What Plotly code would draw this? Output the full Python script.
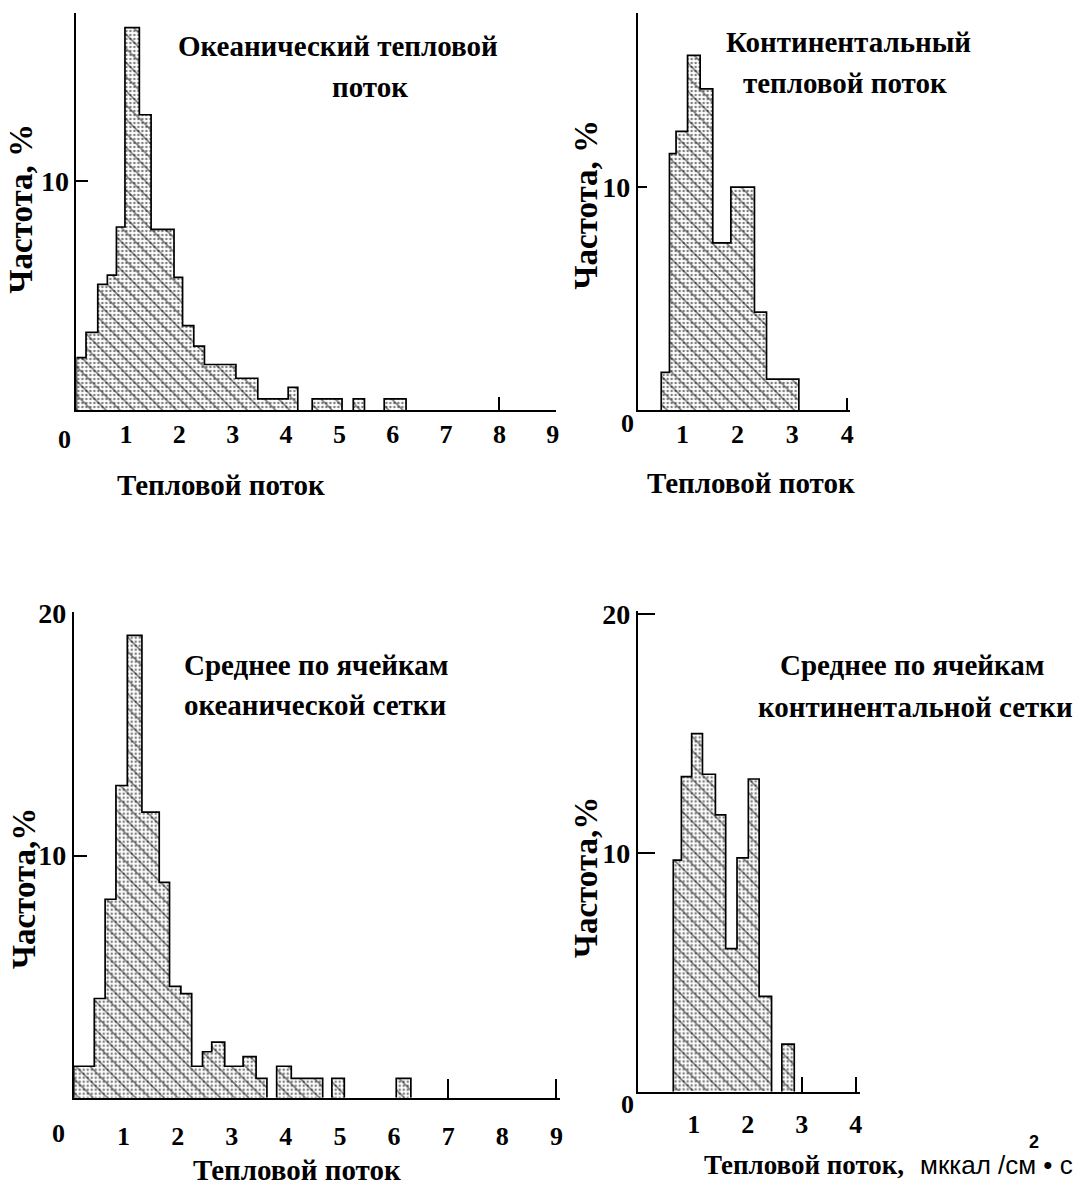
import plotly.graph_objects as go

W, H = 1090, 1191

# ---------------- data ----------------
# Oceanic heat flow (top-left)
ocean_left = [0.07, 0.25, 0.47, 0.65, 0.82, 0.98, 1.25, 1.47, 1.90, 2.06, 2.27, 2.47, 3.06, 3.47, 4.04, 4.49, 5.26, 5.84]
ocean_right = [0.25, 0.47, 0.65, 0.82, 0.98, 1.25, 1.47, 1.90, 2.06, 2.27, 2.47, 3.06, 3.47, 4.04, 4.22, 5.05, 5.47, 6.25]
ocean_freq = [2.3, 3.4, 5.5, 5.9, 8.0, 16.7, 12.9, 7.9, 5.8, 3.7, 2.8, 2.0, 1.4, 0.5, 1.0, 0.5, 0.5, 0.5]

# Continental heat flow (top-right)
cont_left = [0.61, 0.76, 0.88, 1.09, 1.32, 1.55, 1.88, 2.31, 2.53]
cont_right = [0.76, 0.88, 1.09, 1.32, 1.55, 1.88, 2.31, 2.53, 3.12]
cont_freq = [1.7, 11.5, 12.5, 15.9, 14.4, 7.5, 10.0, 4.4, 1.4]

# Oceanic grid-cell means (bottom-left)
ocell_left = [0.08, 0.46, 0.66, 0.86, 1.07, 1.34, 1.66, 1.85, 2.06, 2.26, 2.46, 2.63, 2.87, 3.21, 3.45, 3.83, 4.10, 4.85, 6.04]
ocell_right = [0.46, 0.66, 0.86, 1.07, 1.34, 1.66, 1.85, 2.06, 2.26, 2.46, 2.63, 2.87, 3.21, 3.45, 3.65, 4.10, 4.68, 5.08, 6.31]
ocell_freq = [1.3, 4.1, 8.2, 12.9, 19.1, 11.8, 8.9, 4.6, 4.3, 1.3, 1.9, 2.3, 1.3, 1.7, 0.8, 1.3, 0.8, 0.8, 0.8]

# Continental grid-cell means (bottom-right)
ccell_left = [0.62, 0.77, 0.96, 1.16, 1.40, 1.59, 1.80, 2.01, 2.21, 2.63]
ccell_right = [0.77, 0.96, 1.16, 1.40, 1.59, 1.80, 2.01, 2.21, 2.44, 2.86]
ccell_freq = [9.7, 13.2, 15.0, 13.3, 11.6, 6.0, 9.8, 13.1, 4.0, 2.0]

# tick labels
x_ticks_ocean = [1, 2, 3, 4, 5, 6, 7, 8, 9]
x_ticks_cont = [1, 2, 3, 4]
y_ticks_top = [10]
y_ticks_bottom = [10, 20]
origin_label = "0"

titles = {
    "tl": ["Океанический тепловой", "поток"],
    "tr": ["Континентальный", "тепловой поток"],
    "bl": ["Среднее по ячейкам", "океанической сетки"],
    "br": ["Среднее по ячейкам", "континентальной сетки"],
}
x_title = "Тепловой поток"
y_title_a = "Частота, %"
y_title_b = "Частота,%"
unit_text = "мккал /см • с"
unit_power = "2"

# ---------------- styling / layout ----------------
SERIF = "Liberation Serif, Times New Roman, serif"
SANS = "Liberation Sans, Arial, sans-serif"


def fx(px):
    return px / W


def fy(py):
    return 1 - py / H


panels = [
    dict(name="1", left=ocean_left, right=ocean_right, freq=ocean_freq,
         xpx=(76.7, 558), ypx=(0, 401.7), xr=[0.07, 9.06], yr=[0, 17.34],
         xt=x_ticks_ocean, xminor=[8], xminorlen=13, yt=y_ticks_top, ylen=12, xstand=0),
    dict(name="2", left=cont_left, right=cont_right, freq=cont_freq,
         xpx=(640, 853), ypx=(0, 401.7), xr=[0.18, 4.05], yr=[0, 17.8],
         xt=x_ticks_cont, xminor=[4], xminorlen=12, yt=y_ticks_top, ylen=9, xstand=0),
    dict(name="3", left=ocell_left, right=ocell_right, freq=ocell_freq,
         xpx=(74, 562.3), ypx=(605.3, 1096.7), xr=[0.08, 9.07], yr=[0, 20.08],
         xt=x_ticks_ocean, xminor=[7, 9], xminorlen=19, yt=y_ticks_bottom, ylen=13, yminor=[10], xstand=14),
    dict(name="4", left=ccell_left, right=ccell_right, freq=ccell_freq,
         xpx=(640, 863.3), ypx=(605, 1090.7), xr=[-0.04, 4.08], yr=[0, 20.12],
         xt=x_ticks_cont, xminor=[3, 4], xminorlen=15, yt=y_ticks_bottom, ylen=17, yminor=[10, 20], xstand=8),
]

fig = go.Figure()
layout = dict(
    width=W, height=H, margin=dict(l=0, r=0, t=0, b=0),
    paper_bgcolor="white", plot_bgcolor="white",
    showlegend=False, barmode="overlay", bargap=0,
)


def outline(left, right, h):
    xs, ys = [], []
    for i in range(len(h)):
        if i == 0 or abs(left[i] - right[i - 1]) > 1e-9:
            if xs:
                xs += [right[i - 1], None]
                ys += [0, None]
            xs.append(left[i])
            ys.append(0)
        xs += [left[i], right[i]]
        ys += [h[i], h[i]]
    xs.append(right[-1])
    ys.append(0)
    return xs, ys


for p in panels:
    n = p["name"]
    xref = "x" if n == "1" else "x" + n
    yref = "y" if n == "1" else "y" + n
    mids = [(l + r) / 2 for l, r in zip(p["left"], p["right"])]
    wids = [r - l for l, r in zip(p["left"], p["right"])]
    fig.add_trace(go.Bar(
        x=mids, y=p["freq"], width=wids, xaxis=xref, yaxis=yref,
        marker=dict(color="white", line=dict(width=0),
                    pattern=dict(shape=".", fgcolor="black", bgcolor="white", size=4, solidity=0.32)),
        hoverinfo="skip"))
    fig.add_trace(go.Bar(
        x=mids, y=p["freq"], width=wids, xaxis=xref, yaxis=yref,
        marker=dict(color="rgba(0,0,0,0)", line=dict(width=0),
                    pattern=dict(shape="\\", fgcolor="black", bgcolor="rgba(0,0,0,0)", size=10, solidity=0.16)),
        hoverinfo="skip"))
    ox, oy = outline(p["left"], p["right"], p["freq"])
    fig.add_trace(go.Scatter(x=ox, y=oy, mode="lines", xaxis=xref, yaxis=yref,
                             line=dict(color="black", width=1.7), hoverinfo="skip"))

    xkey = "xaxis" if n == "1" else "xaxis" + n
    ykey = "yaxis" if n == "1" else "yaxis" + n
    layout[xkey] = dict(
        domain=[fx(p["xpx"][0]), fx(p["xpx"][1])], range=p["xr"], anchor=yref,
        showgrid=False, zeroline=False, showline=True, linecolor="black", linewidth=1.7,
        tickmode="array", tickvals=p["xt"], ticktext=["<b>%d</b>" % v for v in p["xt"]],
        ticks="", ticklabelstandoff=p["xstand"],
        tickfont=dict(family=SERIF, size=26, color="black"),
        minor=dict(tickmode="array", tickvals=p["xminor"], ticks="inside",
                   ticklen=p["xminorlen"], tickwidth=1.7, tickcolor="black", showgrid=False),
        fixedrange=True,
    )
    layout[ykey] = dict(
        domain=[fy(p["ypx"][1]), fy(p["ypx"][0])], range=p["yr"], anchor=xref,
        showgrid=False, zeroline=False, showline=True, linecolor="black", linewidth=1.7,
        tickmode="array", tickvals=p["yt"], ticktext=["<b>%d</b>" % v for v in p["yt"]],
        ticks="", ticklabelstandoff=0,
        tickfont=dict(family=SERIF, size=28, color="black"),
        minor=dict(tickmode="array", tickvals=p.get("yminor", p["yt"]), ticks="inside",
                   ticklen=p["ylen"], tickwidth=1.7, tickcolor="black", showgrid=False),
        fixedrange=True,
    )

ann = []


def text(t, px, py, size, family=SERIF, xanchor="center", angle=0, bold=True):
    if bold:
        t = "<b>" + t + "</b>"
    ann.append(dict(text=t, x=fx(px), y=fy(py), xref="paper", yref="paper",
                    xanchor=xanchor, yanchor="middle", showarrow=False, textangle=angle,
                    font=dict(family=family, size=size, color="black")))


# origin labels
for (px, py) in [(64.5, 431), (630, 415), (59, 1133), (630, 1104)]:
    text(origin_label, px, py, 26)

# panel titles
text(titles["tl"][0], 339, 33, 29)
text(titles["tl"][1], 371, 75, 29)
text(titles["tr"][0], 852, 29, 29)
text(titles["tr"][1], 848, 71, 29)
text(titles["bl"][0], 183, 659, 29, xanchor="left")
text(titles["bl"][1], 183, 700, 29, xanchor="left")
text(titles["br"][0], 916, 659, 29)
text(titles["br"][1], 919, 702, 29)

# x titles
text(x_title, 222, 477, 29)
text(x_title, 754, 475, 29)
text(x_title, 298, 1170, 29)
text(x_title + ",", 705, 1165, 27, xanchor="left")
text(unit_text, 921, 1165, 26, family=SANS, xanchor="left", bold=False)
text(unit_power, 1038, 1141, 18, family=SANS)

# y titles
text(y_title_a, 21, 198, 33, angle=-90)
text(y_title_a, 588, 194, 33, angle=-90)
text(y_title_b, 24, 885, 33, angle=-90)
text(y_title_b, 589, 874, 33, angle=-90)

layout["annotations"] = ann
fig.update_layout(**layout)

fig.write_html("out.html", post_script="document.body.style.margin='0px';",
               config={"displayModeBar": False})
